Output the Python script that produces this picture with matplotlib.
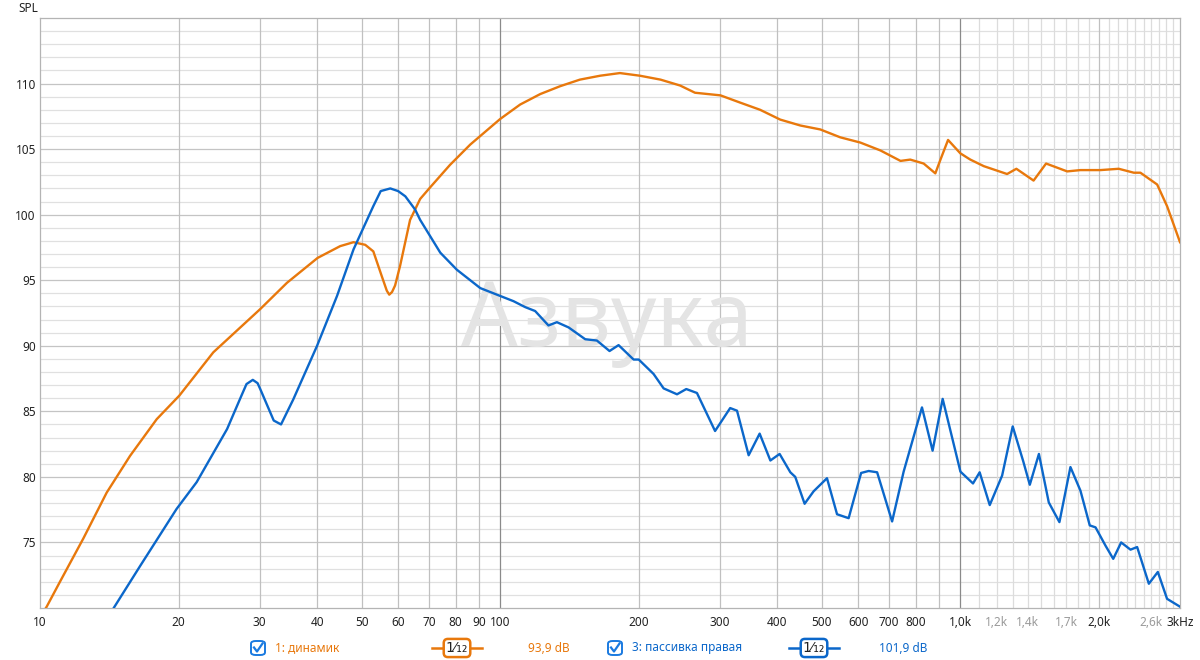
import matplotlib
matplotlib.use("Agg")
import matplotlib.pyplot as plt
from matplotlib.lines import Line2D
from matplotlib.patches import FancyBboxPatch

plt.rcParams["font.family"] = ["Noto Sans", "DejaVu Sans"]

ORANGE = "#E8780C"
BLUE = "#0B67CA"

# --- данные: 1: динамик ---
freq_dyn = [10.0, 10.34, 11.05, 12.42, 13.96, 15.69, 17.93, 20.08, 23.8, 30.1, 34.4,
            40.1, 44.9, 48.0, 50.9, 53.0, 55.3, 56.7, 57.4, 58.2, 59.1, 60.6, 63.7,
            67.0, 70.5, 77.8, 86.1, 100, 110.5, 122.2, 135, 149, 165, 182, 201,
            223, 246, 265, 301, 332, 367, 406, 449, 496, 548, 606, 670, 741, 778,
            832, 882, 905, 940, 1000, 1051, 1124, 1263, 1323, 1442, 1535, 1706,
            1823, 2015, 2208, 2381, 2461, 2676, 2812, 3000]
spl_dyn = [69.3, 70.1, 72.0, 75.3, 78.8, 81.6, 84.4, 86.2, 89.5, 92.8, 94.8,
           96.7, 97.6, 97.9, 97.7, 97.2, 95.3, 94.2, 93.9, 94.1, 94.6, 96.1, 99.6,
           101.2, 102.1, 103.8, 105.35, 107.3, 108.4, 109.2, 109.8, 110.3, 110.6, 110.8, 110.6,
           110.3, 109.85, 109.3, 109.1, 108.55, 108.0, 107.25, 106.8, 106.5, 105.9, 105.5, 104.9, 104.1, 104.2,
           103.9, 103.15, 104.2, 105.7, 104.67, 104.2, 103.7, 103.1, 103.5, 102.6, 103.9, 103.3,
           103.4, 103.4, 103.5, 103.2, 103.2, 102.3, 100.65, 97.9]

# --- данные: 3: пассивка правая ---
freq_pas = [14.4, 16.5, 19.8, 21.9, 25.5, 27.4, 28.1, 29.0, 29.7, 30.1, 32.2, 33.4,
            35.5, 40.0, 44.2, 48.0, 53.0, 55.0, 57.7, 60.0, 62.2, 65.3, 67.0, 74.1,
            80.5, 90.5, 100, 106.9, 113.3, 119.1, 127.3, 132.8, 140.8, 153, 162.2,
            172.8, 180.8, 194.9, 200, 215.4, 226.5, 242.2, 253.7, 267.6, 293, 316,
            327, 346.6, 366.2, 386.4, 404.7, 427, 437.6, 458.6, 479.7, 512.9, 539.4,
            571.6, 608.4, 631.8, 659.2, 710.5, 752.7, 825, 870, 915, 1000, 1065,
            1101, 1158, 1232, 1299, 1369, 1415, 1481, 1556, 1641, 1734, 1823, 1910,
            1966, 2067, 2148, 2235, 2342, 2421, 2567, 2685, 2812, 3000]
spl_pas = [69.9, 73.2, 77.55, 79.6, 83.65, 86.2, 87.08, 87.4, 87.15, 86.7, 84.3, 84.0,
           85.9, 90.0, 93.8, 97.35, 100.65, 101.8, 102.0, 101.8, 101.4, 100.4, 99.6, 97.1,
           95.8, 94.4, 93.8, 93.4, 92.95, 92.65, 91.55, 91.8, 91.4, 90.5, 90.4,
           89.6, 90.05, 88.95, 88.95, 87.85, 86.75, 86.3, 86.7, 86.4, 83.5, 85.25,
           85.05, 81.65, 83.3, 81.25, 81.75, 80.35, 80.0, 77.95, 78.9, 79.9, 77.15,
           76.85, 80.3, 80.45, 80.35, 76.6, 80.4, 85.3, 82.0, 85.95, 80.4, 79.5,
           80.35, 77.85, 80.1, 83.85, 81.2, 79.4, 81.75, 78.05, 76.55, 80.75, 78.95, 76.3,
           76.15, 74.75, 73.75, 75.0, 74.45, 74.65, 71.85, 72.75, 70.7, 70.1]

# подписи осей
xtick_pos = [10, 20, 30, 40, 50, 60, 70, 80, 90, 100, 200, 300, 400, 500, 600, 700, 800,
             1000, 1200, 1400, 1700, 2000, 2600, 3000]
xtick_lbl = ["10", "20", "30", "40", "50", "60", "70", "80", "90", "100", "200", "300",
             "400", "500", "600", "700", "800", "1,0k", "1,2k", "1,4k", "1,7k", "2,0k",
             "2,6k", "3kHz"]
xtick_dim = ["1,2k", "1,4k", "1,7k", "2,6k"]
ytick_pos = [75, 80, 85, 90, 95, 100, 105, 110]

grid_x_mid = [20, 30, 40, 50, 60, 70, 80, 90, 200, 300, 400, 500, 600, 700, 800, 900, 2000]
grid_x_dark = [100, 1000]
grid_x_light = [1100, 1200, 1300, 1400, 1500, 1600, 1700, 1800, 1900,
                2100, 2200, 2300, 2400, 2500, 2600, 2700, 2800, 2900]

legend_items = [
    ("1: динамик", "93,9 dB", ORANGE),
    ("3: пассивка правая", "101,9 dB", BLUE),
]

fig = plt.figure(figsize=(12, 6.6), dpi=100)
ax = fig.add_axes([40 / 1200, 1 - 608 / 660, 1140 / 1200, 590 / 660])
ax.set_xscale("log")
ax.set_xlim(10, 3000)
ax.set_ylim(70, 115)

for v in range(71, 115):
    ax.axhline(v, color="#c4c4c4" if v % 5 == 0 else "#e0e0e0", lw=0.9, zorder=0)
for f in grid_x_light:
    ax.axvline(f, color="#dcdcdc", lw=0.9, zorder=0)
for f in grid_x_mid:
    ax.axvline(f, color="#c0c0c0", lw=0.9, zorder=0)
for f in grid_x_dark:
    ax.axvline(f, color="#8a8a8a", lw=0.9, zorder=0)

# водяной знак
ax.text(0.497, 0.444, "Азвука", transform=ax.transAxes, fontsize=64, color="#e4e4e4",
        ha="center", va="baseline", zorder=1)

ax.plot(freq_dyn, spl_dyn, color=ORANGE, lw=1.7, zorder=3)
ax.plot(freq_pas, spl_pas, color=BLUE, lw=1.7, zorder=3)

ax.set_xticks(xtick_pos)
ax.set_xticklabels(xtick_lbl)
ax.xaxis.set_minor_locator(matplotlib.ticker.NullLocator())
ax.set_yticks(ytick_pos)
ax.tick_params(length=0, labelsize=8.5, colors="#222222", pad=6)
ax.tick_params(axis="y", pad=3)
for lbl in ax.get_xticklabels():
    if lbl.get_text() in xtick_dim:
        lbl.set_color("#9a9a9a")
for s in ax.spines.values():
    s.set_color("#b4b4b4")
    s.set_linewidth(0.9)

fig.text(18 / 1200, 1 - 9 / 660, "SPL", fontsize=8.5, color="#222222", va="center")

# легенда внизу
ly = 1 - 648 / 660
for (name, level, col), cx, tx, fx, lx in zip(legend_items, [258, 615], [275, 632],
                                                [457, 814], [528, 879]):
    box = FancyBboxPatch(((cx - 7) / 1200, ly - 7 / 660), 14 / 1200, 14 / 660,
                         boxstyle="round,pad=0,rounding_size=0.004",
                         transform=fig.transFigure, facecolor="white",
                         edgecolor="#1a7ae0", lw=1.4)
    fig.add_artist(box)
    fig.add_artist(Line2D([(cx - 4) / 1200, (cx - 1) / 1200, (cx + 4.5) / 1200],
                          [ly + 0.5 / 660, ly - 3.5 / 660, ly + 4.5 / 660],
                          color="#1a7ae0", lw=1.6, transform=fig.transFigure))
    fig.text(tx / 1200, ly, name, color=col, fontsize=8.5, va="center")
    fig.add_artist(Line2D([(fx - 25) / 1200, (fx + 25) / 1200], [ly, ly],
                          color=col, lw=1.8, transform=fig.transFigure))
    fig.text(fx / 1200, ly, "1\u2044\u2081\u2082", color="#222222", fontsize=10,
             family=["DejaVu Sans"], ha="center", va="center",
             bbox=dict(boxstyle="round,pad=0.15,rounding_size=0.3",
                       facecolor="white", edgecolor=col, lw=1.8))
    fig.text(lx / 1200, ly, level, color=col, fontsize=8.5, va="center")

fig.savefig("out.png", dpi=100)
